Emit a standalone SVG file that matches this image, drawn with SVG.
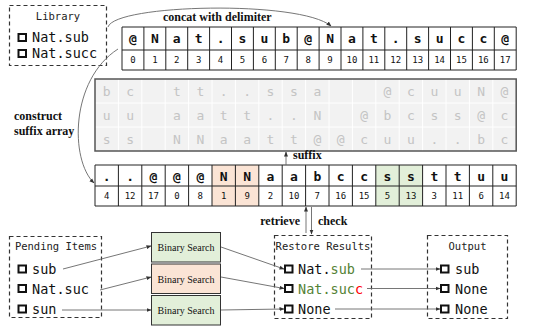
<svg xmlns="http://www.w3.org/2000/svg" width="540" height="327" viewBox="0 0 540 327">
<defs>
<marker id="ah" viewBox="0 0 10 10" refX="9" refY="5" markerWidth="5" markerHeight="5" orient="auto" markerUnits="userSpaceOnUse"><path d="M0,1 L10,5 L0,9 z" fill="#333"/></marker>
<style>
.dash{fill:#fff;stroke:#333;stroke-width:1.2;stroke-dasharray:4,3}
.ttl{font-family:"DejaVu Sans Mono","Liberation Mono",monospace;font-size:10.5px;fill:#222;text-anchor:middle}
.item{font-family:"DejaVu Sans Mono","Liberation Mono",monospace;font-size:13.5px;fill:#111}
.cb{fill:none;stroke:#111;stroke-width:2}
.lbl{font-family:"Liberation Serif","Times New Roman",serif;font-weight:bold;font-size:12px;fill:#111}
.bs{stroke:#333;stroke-width:1}
.bst{font-family:"Liberation Serif","Times New Roman",serif;font-size:10px;fill:#111;text-anchor:middle}
.ch{font-family:"DejaVu Sans Mono","Liberation Mono",monospace;font-weight:bold;font-size:13px;fill:#111;text-anchor:middle}
.ix{font-family:"DejaVu Sans Mono","Liberation Mono",monospace;font-size:9px;fill:#111;text-anchor:middle}
.gc{font-family:"DejaVu Sans Mono","Liberation Mono",monospace;font-size:13px;fill:#c4c4c4;text-anchor:middle}
.grid{fill:none;stroke:#222;stroke-width:1}
.conn{fill:none;stroke:#666;stroke-width:0.9}
.g{fill:#548235}
.r{fill:#ff0000}
</style>
</defs>

<g id="library">
<rect class="dash" x="9.5" y="5.5" width="97" height="60"/>
<text class="ttl" x="58" y="20">Library</text>
<rect class="cb" x="18.5" y="34" width="7.5" height="7"/>
<text class="item" x="32" y="42">Nat.sub</text>
<rect class="cb" x="18.5" y="50" width="7.5" height="7"/>
<text class="item" x="32" y="58">Nat.succ</text>
</g>

<g id="concat-label"><text class="lbl" x="163" y="21">concat with delimiter</text></g>

<g id="concat-array">
<rect x="122" y="27" width="394.2" height="43" fill="#fff"/>
<path class="grid" d="M122,27H516.2V70H122Z M122,50H516.2 M143.9,27V70 M165.8,27V70 M187.7,27V70 M209.6,27V70 M231.5,27V70 M253.4,27V70 M275.3,27V70 M297.2,27V70 M319.1,27V70 M341,27V70 M362.9,27V70 M384.8,27V70 M406.7,27V70 M428.6,27V70 M450.5,27V70 M472.4,27V70 M494.3,27V70"/>
<g class="ch">
<text x="132.95" y="43">@</text><text x="154.85" y="43">N</text><text x="176.75" y="43">a</text><text x="198.65" y="43">t</text><text x="220.55" y="43">.</text><text x="242.45" y="43">s</text><text x="264.35" y="43">u</text><text x="286.25" y="43">b</text><text x="308.15" y="43">@</text><text x="330.05" y="43">N</text><text x="351.95" y="43">a</text><text x="373.85" y="43">t</text><text x="395.75" y="43">.</text><text x="417.65" y="43">s</text><text x="439.55" y="43">u</text><text x="461.45" y="43">c</text><text x="483.35" y="43">c</text><text x="505.25" y="43">@</text>
</g>
<g class="ix">
<text x="132.95" y="63">0</text><text x="154.85" y="63">1</text><text x="176.75" y="63">2</text><text x="198.65" y="63">3</text><text x="220.55" y="63">4</text><text x="242.45" y="63">5</text><text x="264.35" y="63">6</text><text x="286.25" y="63">7</text><text x="308.15" y="63">8</text><text x="330.05" y="63">9</text><text x="351.95" y="63">10</text><text x="373.85" y="63">11</text><text x="395.75" y="63">12</text><text x="417.65" y="63">13</text><text x="439.55" y="63">14</text><text x="461.45" y="63">15</text><text x="483.35" y="63">16</text><text x="505.25" y="63">17</text>
</g>
</g>

<g id="construct-label">
<text class="lbl" x="14" y="120">construct</text>
<text class="lbl" x="14" y="135">suffix array</text>
</g>

<g id="suffix-matrix">
<rect x="95" y="79" width="421.2" height="72" fill="#f2f2f2"/>
<path fill="none" stroke="#fff" stroke-width="1" d="M95,103H516.2 M95,127H516.2 M118.4,79V151 M141.8,79V151 M165.2,79V151 M188.6,79V151 M212,79V151 M235.4,79V151 M258.8,79V151 M282.2,79V151 M305.6,79V151 M329,79V151 M352.4,79V151 M375.8,79V151 M399.2,79V151 M422.6,79V151 M446,79V151 M469.4,79V151 M492.8,79V151"/>
<rect x="95" y="79" width="421.2" height="72" fill="none" stroke="#555" stroke-width="1.5"/>
<g class="gc">
<text x="106.7" y="95.5">b</text><text x="130.1" y="95.5">c</text><text x="176.9" y="95.5">t</text><text x="200.3" y="95.5">t</text><text x="223.7" y="95.5">.</text><text x="247.1" y="95.5">.</text><text x="270.5" y="95.5">s</text><text x="293.9" y="95.5">s</text><text x="317.3" y="95.5">a</text><text x="387.5" y="95.5">@</text><text x="410.9" y="95.5">c</text><text x="434.3" y="95.5">u</text><text x="457.7" y="95.5">u</text><text x="481.1" y="95.5">N</text><text x="504.5" y="95.5">@</text>
<text x="106.7" y="119.5">u</text><text x="130.1" y="119.5">u</text><text x="176.9" y="119.5">a</text><text x="200.3" y="119.5">a</text><text x="223.7" y="119.5">t</text><text x="247.1" y="119.5">t</text><text x="270.5" y="119.5">.</text><text x="293.9" y="119.5">.</text><text x="317.3" y="119.5">N</text><text x="364.1" y="119.5">@</text><text x="387.5" y="119.5">b</text><text x="410.9" y="119.5">c</text><text x="434.3" y="119.5">s</text><text x="457.7" y="119.5">s</text><text x="481.1" y="119.5">@</text><text x="504.5" y="119.5">c</text>
<text x="106.7" y="143.5">s</text><text x="130.1" y="143.5">s</text><text x="176.9" y="143.5">N</text><text x="200.3" y="143.5">N</text><text x="223.7" y="143.5">a</text><text x="247.1" y="143.5">a</text><text x="270.5" y="143.5">t</text><text x="293.9" y="143.5">t</text><text x="317.3" y="143.5">@</text><text x="340.7" y="143.5">@</text><text x="364.1" y="143.5">c</text><text x="387.5" y="143.5">u</text><text x="410.9" y="143.5">u</text><text x="434.3" y="143.5">.</text><text x="457.7" y="143.5">.</text><text x="481.1" y="143.5">b</text><text x="504.5" y="143.5">c</text>
</g>
</g>

<g id="suffix-label"><text class="lbl" x="293" y="159">suffix</text></g>

<g id="sorted-array">
<rect x="95" y="165" width="421.2" height="41" fill="#fff"/>
<rect x="212" y="165" width="46.8" height="41" fill="#fbe4d5"/>
<rect x="375.8" y="165" width="46.8" height="41" fill="#e2efd9"/>
<path class="grid" d="M95,165H516.2V206H95Z M95,186H516.2 M118.4,165V206 M141.8,165V206 M165.2,165V206 M188.6,165V206 M212,165V206 M235.4,165V206 M258.8,165V206 M282.2,165V206 M305.6,165V206 M329,165V206 M352.4,165V206 M375.8,165V206 M399.2,165V206 M422.6,165V206 M446,165V206 M469.4,165V206 M492.8,165V206"/>
<g class="ch">
<text x="106.7" y="180.5">.</text><text x="130.1" y="180.5">.</text><text x="153.5" y="180.5">@</text><text x="176.9" y="180.5">@</text><text x="200.3" y="180.5">@</text><text x="223.7" y="180.5">N</text><text x="247.1" y="180.5">N</text><text x="270.5" y="180.5">a</text><text x="293.9" y="180.5">a</text><text x="317.3" y="180.5">b</text><text x="340.7" y="180.5">c</text><text x="364.1" y="180.5">c</text><text x="387.5" y="180.5">s</text><text x="410.9" y="180.5">s</text><text x="434.3" y="180.5">t</text><text x="457.7" y="180.5">t</text><text x="481.1" y="180.5">u</text><text x="504.5" y="180.5">u</text>
</g>
<g class="ix">
<text x="106.7" y="199">4</text><text x="130.1" y="199">12</text><text x="153.5" y="199">17</text><text x="176.9" y="199">0</text><text x="200.3" y="199">8</text><text x="223.7" y="199">1</text><text x="247.1" y="199">9</text><text x="270.5" y="199">2</text><text x="293.9" y="199">10</text><text x="317.3" y="199">7</text><text x="340.7" y="199">16</text><text x="364.1" y="199">15</text><text x="387.5" y="199">5</text><text x="410.9" y="199">13</text><text x="434.3" y="199">3</text><text x="457.7" y="199">11</text><text x="481.1" y="199">6</text><text x="504.5" y="199">14</text>
</g>
</g>

<g id="retrieve-check-labels">
<text class="lbl" x="300" y="225" text-anchor="end">retrieve</text>
<text class="lbl" x="318" y="225">check</text>
</g>

<g id="pending">
<rect class="dash" x="9.5" y="236.5" width="92" height="81"/>
<text class="ttl" x="56" y="250">Pending Items</text>
<rect class="cb" x="18.5" y="265.5" width="7.5" height="7"/>
<text class="item" x="32" y="274">sub</text>
<rect class="cb" x="18.5" y="285" width="7.5" height="7"/>
<text class="item" x="32" y="293.5">Nat.suc</text>
<rect class="cb" x="18.5" y="305.5" width="7.5" height="7"/>
<text class="item" x="32" y="314">sun</text>
</g>

<g id="bs1"><rect class="bs" x="151.5" y="232.5" width="69" height="29.5" fill="#e2efd9"/><text class="bst" x="186" y="251">Binary Search</text></g>
<g id="bs2"><rect class="bs" x="151.5" y="264" width="69" height="29.5" fill="#fbe4d5"/><text class="bst" x="186" y="282.5">Binary Search</text></g>
<g id="bs3"><rect class="bs" x="151.5" y="295.5" width="69" height="29.5" fill="#e2efd9"/><text class="bst" x="186" y="314">Binary Search</text></g>

<g id="restore">
<rect class="dash" x="274.5" y="235.5" width="97" height="83"/>
<text class="ttl" x="323" y="250">Restore Results</text>
<rect class="cb" x="285" y="265.5" width="7.5" height="7"/>
<text class="item" x="298" y="274">Nat.<tspan class="g">sub</tspan></text>
<rect class="cb" x="285" y="285" width="7.5" height="7"/>
<text class="item" x="298" y="293.5"><tspan class="g">Nat.suc</tspan><tspan class="r">c</tspan></text>
<rect class="cb" x="285" y="305.5" width="7.5" height="7"/>
<text class="item" x="298" y="314">None</text>
</g>

<g id="output">
<rect class="dash" x="427.5" y="235.5" width="80" height="83"/>
<text class="ttl" x="467.5" y="250">Output</text>
<rect class="cb" x="441" y="265.5" width="7.5" height="7"/>
<text class="item" x="455" y="274">sub</text>
<rect class="cb" x="441" y="285" width="7.5" height="7"/>
<text class="item" x="455" y="293.5">None</text>
<rect class="cb" x="441" y="305.5" width="7.5" height="7"/>
<text class="item" x="455" y="314">None</text>
</g>

<g id="connectors">
<path class="conn" d="M108,27 C115,4 300,0 331,26" marker-end="url(#ah)"/>
<path class="conn" d="M118,49 C70,80 70,160 94,183" marker-end="url(#ah)"/>
<path class="conn" d="M286,165 V152" marker-end="url(#ah)"/>
<path class="conn" d="M306,233 V207" marker-end="url(#ah)"/>
<path class="conn" d="M311.5,207 V234" marker-end="url(#ah)"/>
<path class="conn" d="M63,269 L151,246" marker-end="url(#ah)"/>
<path class="conn" d="M100,290 L151,277" marker-end="url(#ah)"/>
<path class="conn" d="M62,310 L151,310" marker-end="url(#ah)"/>
<path class="conn" d="M221,247 L284,269" marker-end="url(#ah)"/>
<path class="conn" d="M221,277 L284,288.5" marker-end="url(#ah)"/>
<path class="conn" d="M221,310 L284,309" marker-end="url(#ah)"/>
<path class="conn" d="M361,269 L440,269" marker-end="url(#ah)"/>
<path class="conn" d="M367,288.5 L440,288.5" marker-end="url(#ah)"/>
<path class="conn" d="M335,309 L440,309" marker-end="url(#ah)"/>
</g>
</svg>
